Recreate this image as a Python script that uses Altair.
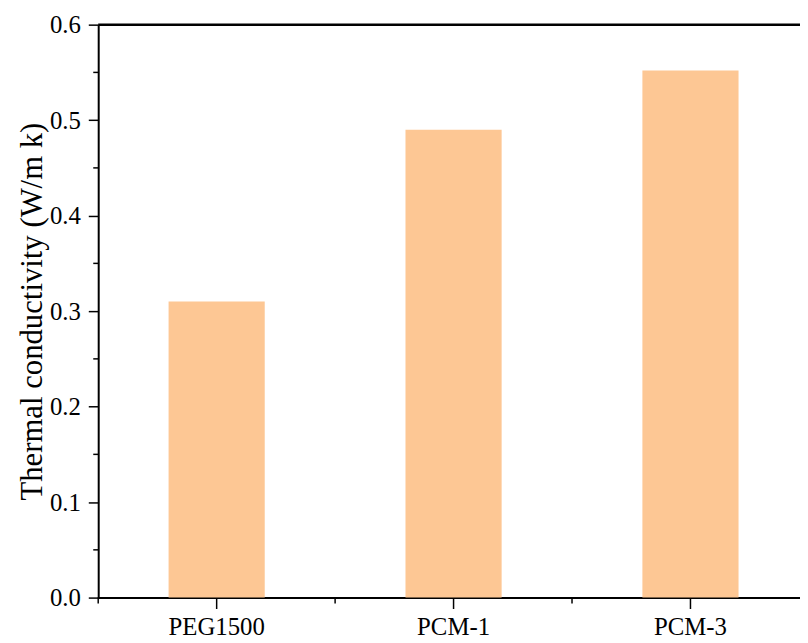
import altair as alt
import pandas as pd

categories = ["PEG1500", "PCM-1", "PCM-3"]
values = [0.310, 0.490, 0.552]
y_major = [0.0, 0.1, 0.2, 0.3, 0.4, 0.5, 0.6]
y_minor = [0.05, 0.15, 0.25, 0.35, 0.45, 0.55]

df = pd.DataFrame({"cat": categories, "val": values})
minor_df = pd.DataFrame({"m": y_minor})

FONT = "Liberation Serif"
W, H = 708, 578

xscale = alt.Scale(domain=categories, range=[0, 717], paddingInner=0, paddingOuter=0)
yscale = alt.Scale(domain=[0, 0.6], nice=False, zero=True)

bars = alt.Chart(df).mark_bar(color="#FDC794", size=97).encode(
    x=alt.X("cat:N", scale=xscale, sort=categories,
            axis=alt.Axis(title=None, labelAngle=0, labelFont=FONT, labelFontSize=25,
                          labelColor="black", tickColor="black", tickSize=11, tickWidth=1.5,
                          domainColor="black", domainWidth=2, labelPadding=6)),
    y=alt.Y("val:Q", scale=yscale,
            axis=alt.Axis(title="Thermal conductivity (W/m k)", values=y_major, format=".1f",
                          titleFont=FONT, titleFontSize=31, titleFontWeight="normal",
                          titleColor="black", titlePadding=1,
                          labelFont=FONT, labelFontSize=25, labelColor="black",
                          tickColor="black", tickSize=10, tickWidth=1.5,
                          domainColor="black", domainWidth=2, labelPadding=8, grid=False)),
)

x_minor = alt.Chart(df).mark_rule(color="black", strokeWidth=1.5).encode(
    x=alt.X("cat:N", scale=xscale, sort=categories, bandPosition=0),
    y=alt.value(H),
    y2=alt.value(H + 6),
)

y_minor_rules = alt.Chart(minor_df).mark_rule(color="black", strokeWidth=1.5).encode(
    y=alt.Y("m:Q", scale=yscale),
    x=alt.value(-5),
    x2=alt.value(0),
)

top_line = alt.Chart(df.head(1)).mark_rule(color="black", strokeWidth=2.5).encode(
    x=alt.value(0), x2=alt.value(W), y=alt.value(0)
)

chart = alt.layer(bars, x_minor, y_minor_rules, top_line).properties(
    width=W, height=H,
    autosize=alt.AutoSizeParams(type="none"),
    padding={"left": 91, "top": 14, "right": 0, "bottom": 43},
).configure_view(stroke=None).configure(background="white")

chart.save("out.html", embed_options={"renderer": "svg", "actions": False})
